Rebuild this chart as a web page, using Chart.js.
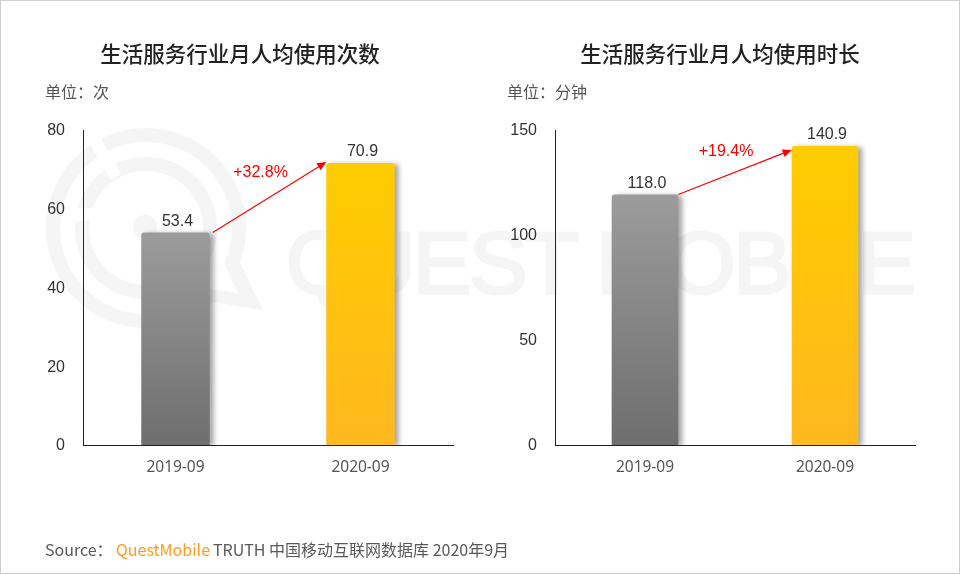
<!DOCTYPE html>
<html>
<head>
<meta charset="utf-8">
<title>生活服务行业月人均使用</title>
<script src="https://cdn.jsdelivr.net/npm/chart.js@4"></script>
<style>
    html, body { margin: 0; padding: 0; background: #fff; }
    #page { position: relative; width: 960px; height: 574px; overflow: hidden; background: #fff; font-family: "Noto Sans CJK SC", "Noto Sans", sans-serif; }
    #frame { position: absolute; left: 0; top: 0; width: 958px; height: 572px; border: 1px solid #cfcfcf; }
    #watermark { position: absolute; left: 0; top: 0; }
    canvas { position: absolute; top: 0; }
    #countChart { left: 0; }
    #minuteChart { left: 480px; }
    .title { position: absolute; top: 38px; width: 480px; text-align: center; font-size: 21.5px; line-height: 30px; font-weight: 500; color: #222; }
    .unit { position: absolute; top: 80px; font-size: 16px; line-height: 22px; color: #555; }
    #footer { position: absolute; left: 45px; top: 538px; font-size: 16px; line-height: 22px; color: #595959; white-space: pre; }
    #footer span { display: inline-block; }
    #footer .source { width: 71px; }
    #footer .brand { width: 97px; color: #ff9a1f; }
</style>
</head>
<body>
<div id="page">
    <svg id="watermark" width="960" height="574">
        <circle cx="146" cy="228" r="93" fill="none" stroke="#f5f5f5" stroke-width="14"/>
        <polygon points="240,263 263,310 195,300 205,270" fill="#f5f5f5"/>
        <polygon points="225,265 238,293 203,288 195,270" fill="#fff"/>
        <circle cx="146" cy="228" r="64" fill="none" stroke="#f5f5f5" stroke-width="14"/>
        <line x1="116" y1="177" x2="86" y2="125" stroke="#fff" stroke-width="12"/>
        <rect x="70" y="208" width="22" height="13" fill="#fff"/>
        <circle cx="145" cy="227" r="12" fill="#f5f5f5"/>
        <text x="286" y="293" font-family="Liberation Sans" font-size="88" textLength="630" lengthAdjust="spacing" fill="#f5f5f5" stroke="#f5f5f5" stroke-width="3">QUEST MOBILE</text>
    </svg>
    <div id="frame"></div>
    <canvas id="countChart" width="480" height="574" style="width:480px;height:574px"></canvas>
    <canvas id="minuteChart" width="480" height="574" style="width:480px;height:574px"></canvas>
    <div class="title" style="left:0">生活服务行业月人均使用次数</div>
    <div class="title" style="left:480px">生活服务行业月人均使用时长</div>
    <div class="unit" style="left:45px">单位：次</div>
    <div class="unit" style="left:507px">单位：分钟</div>
    <div id="footer"><span class="source">Source：</span><span class="brand">QuestMobile</span>TRUTH 中国移动互联网数据库 2020年9月</div>
</div>
<script>
    const categories = ["2019-09", "2020-09"];
    const usageCounts = [53.4, 70.9];
    const usageMinutes = [118.0, 140.9];
    const countTickMax = 80;
    const countTickStep = 20;
    const minuteTickMax = 150;
    const minuteTickStep = 50;
    // the bars in the picture run a bit taller than the printed ticks, so they get their own hidden scale
    const countBarMax = 79.2;
    const minuteBarMax = 148.4;
    const countGrowth = "+32.8%";
    const minuteGrowth = "+19.4%";

    const barGradients = [["#9c9c9c", "#6e6e6e"], ["#ffcc00", "#ffb81f"]];

    function barFill(context) {
        const chart = context.chart;
        const colors = barGradients[context.dataIndex];
        if (!chart.chartArea) return colors[0];
        const scale = chart.scales.yBars;
        const top = scale.getPixelForValue(context.raw);
        const gradient = chart.ctx.createLinearGradient(0, top, 0, scale.getPixelForValue(0));
        gradient.addColorStop(0, colors[0]);
        gradient.addColorStop(1, colors[1]);
        return gradient;
    }

    const barShadow = {
        id: "barShadow",
        beforeDatasetsDraw(chart) {
            const ctx = chart.ctx;
            ctx.save();
            ctx.shadowColor = "rgba(0, 0, 0, 0.35)";
            ctx.shadowBlur = 5;
            ctx.shadowOffsetX = 4;
            ctx.shadowOffsetY = 1;
        },
        afterDatasetsDraw(chart) {
            chart.ctx.restore();
        }
    };

    const barNotes = {
        id: "barNotes",
        afterDraw(chart, args, opts) {
            const ctx = chart.ctx;
            const bars = chart.getDatasetMeta(0).data;
            const values = chart.data.datasets[0].data;

            ctx.save();
            ctx.textAlign = "center";
            ctx.textBaseline = "middle";
            ctx.font = '16px "Liberation Sans"';
            ctx.fillStyle = "#333";
            bars.forEach((bar, i) => {
                ctx.fillText(values[i].toFixed(1), bar.x + 2, bar.y - 11);
            });

            const x1 = bars[0].x + bars[0].width / 2 + opts.startGap;
            const y1 = bars[0].y;
            const x2 = bars[1].x - bars[1].width / 2;
            const y2 = bars[1].y + opts.endDrop;
            const angle = Math.atan2(y2 - y1, x2 - x1);

            ctx.strokeStyle = "#ff0000";
            ctx.fillStyle = "#ff0000";
            ctx.lineWidth = 1.2;
            ctx.beginPath();
            ctx.moveTo(x1, y1);
            ctx.lineTo(x2 - 6 * Math.cos(angle), y2 - 6 * Math.sin(angle));
            ctx.stroke();
            ctx.beginPath();
            ctx.moveTo(x2, y2);
            ctx.lineTo(x2 - 10 * Math.cos(angle - 0.42), y2 - 10 * Math.sin(angle - 0.42));
            ctx.lineTo(x2 - 10 * Math.cos(angle + 0.42), y2 - 10 * Math.sin(angle + 0.42));
            ctx.closePath();
            ctx.fill();

            ctx.font = '16px "Liberation Sans"';
            ctx.fillText(opts.text, (x1 + x2) / 2 + opts.textX, (y1 + y2) / 2 + opts.textY);
            ctx.restore();
        }
    };

    function drawChart(canvasId, values, tickMax, tickStep, barMax, yWidth, rightPad, notes) {
        return new Chart(document.getElementById(canvasId), {
            type: "bar",
            data: {
                labels: categories,
                datasets: [{
                    data: values,
                    yAxisID: "yBars",
                    backgroundColor: barFill,
                    borderRadius: { topLeft: 3, topRight: 3 },
                    borderSkipped: "bottom",
                    barPercentage: 0.37,
                    categoryPercentage: 1
                }]
            },
            options: {
                responsive: false,
                animation: false,
                layout: { padding: { left: 0, right: rightPad, top: 130, bottom: 89 } },
                plugins: {
                    legend: { display: false },
                    tooltip: { enabled: false },
                    barNotes: notes
                },
                scales: {
                    x: {
                        grid: { display: false, drawTicks: false },
                        border: { color: "#222", width: 1 },
                        ticks: { color: "#555", padding: 13, font: { family: "Noto Sans", size: 15.5 } },
                        afterFit: scale => { scale.height = 40; }
                    },
                    y: {
                        min: 0,
                        max: tickMax,
                        position: "left",
                        grid: { display: false, drawTicks: false },
                        border: { color: "#222", width: 1 },
                        ticks: {
                            stepSize: tickStep,
                            color: "#333",
                            padding: 18,
                            labelOffset: 1,
                            font: { family: "Liberation Sans", size: 16 }
                        },
                        afterFit: scale => { scale.width = yWidth; }
                    },
                    yBars: { min: 0, max: barMax, display: false }
                }
            },
            plugins: [barShadow, barNotes]
        });
    }

    drawChart("countChart", usageCounts, countTickMax, countTickStep, countBarMax, 83, 27,
        { text: countGrowth, startGap: 3, endDrop: -1, textX: -9, textY: -25 });
    drawChart("minuteChart", usageMinutes, minuteTickMax, minuteTickStep, minuteBarMax, 75, 45,
        { text: minuteGrowth, startGap: 0, endDrop: 4, textX: -9, textY: -21 });
</script>
</body>
</html>
